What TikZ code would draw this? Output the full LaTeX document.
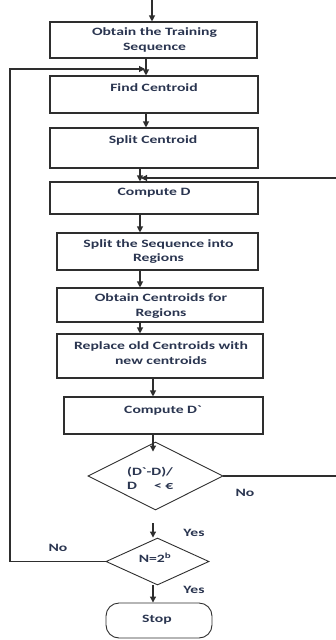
\documentclass[tikz,border=0pt]{standalone}
\usepackage{fontspec}
\setmainfont{Carlito}[FakeStretch=1.4,Ligatures=TeXOff]
\usetikzlibrary{arrows.meta,shapes.geometric}
\definecolor{ink}{HTML}{2A3550}
\definecolor{edge}{HTML}{2E2E2E}
\begin{document}
\begin{tikzpicture}[x=1pt,y=-1pt,
  stepbox/.style={draw=edge,line width=1.1pt,inner sep=0pt},
  decision/.style={diamond,draw=edge,line width=0.9pt,inner sep=0pt},
  terminal/.style={draw=edge,line width=0.9pt,rounded corners=13pt,inner sep=0pt},
  txt/.style={text=ink,font=\fontsize{11.2}{14.5}\selectfont\bfseries,align=center,inner sep=0pt},
  lbl/.style={text=ink,font=\fontsize{11.2}{14.5}\selectfont\bfseries,inner sep=0pt},
  flow/.style={draw=edge,line width=1.1pt,-{Triangle[length=6pt,width=6pt]}},
  wire/.style={draw=edge,line width=1.1pt}]
\useasboundingbox (0,0) rectangle (335,640);

% process boxes
\node[stepbox,minimum width=207pt,minimum height=36pt] (b1) at (153.5,40) {};
\node[stepbox,minimum width=208pt,minimum height=37pt] (b2) at (154,94.5) {};
\node[stepbox,minimum width=208pt,minimum height=40pt] (b3) at (154,148) {};
\node[stepbox,minimum width=208pt,minimum height=32pt] (b4) at (154,198) {};
\node[stepbox,minimum width=201pt,minimum height=37pt] (b5) at (157.5,251.5) {};
\node[stepbox,minimum width=206pt,minimum height=34pt] (b6) at (160,305) {};
\node[stepbox,minimum width=206pt,minimum height=44pt] (b7) at (160,356) {};
\node[stepbox,minimum width=199pt,minimum height=37pt] (b8) at (163.5,415.5) {};

% decisions and terminal
\node[decision,minimum width=135pt,minimum height=68pt] (d1) at (155.5,476) {};
\node[decision,minimum width=103pt,minimum height=47pt] (d2) at (157.5,561.5) {};
\node[terminal,minimum width=106pt,minimum height=35pt] (s) at (159,620.5) {};

% box texts
\node[txt] (t1) at (154.5,40) {Obtain the Training\\Sequence};
\node[txt] (t2) at (154,88) {Find Centroid};
\node[txt] (t3) at (153,140) {Split Centroid};
\node[txt] (t4) at (154,193) {Compute D};
\node[txt] (t5) at (158.5,251.5) {Split the Sequence into\\Regions};
\node[txt] (t6) at (161,306) {Obtain Centroids for\\Regions};
\node[txt] (t7) at (161,353) {Replace old Centroids with\\new centroids};
\node[txt] (t8) at (163,411) {Compute D`};
\node[txt,align=left,anchor=west] (t9) at (127,478.5) {(D`-D)/\\D\hspace{17pt}< €};
\node[txt] (t10) at (155,558) {N=2\textsuperscript{b}};
\node[txt] (t11) at (157,620) {Stop};

% branch labels
\node[lbl] (n1) at (245,493) {No};
\node[lbl] (y1) at (194,533) {Yes};
\node[lbl] (n2) at (58,548) {No};
\node[lbl] (y2) at (194,590) {Yes};

% connector columns and corner points
\coordinate (top) at (152,0);
\coordinate (xa) at (146,0);
\coordinate (xb) at (140,0);
\coordinate (xc) at (153,0);
\coordinate (lc) at (10,69);
\coordinate (rc) at (340,178);
\coordinate (ja) at (145,69);
\coordinate (jb) at (141,178);

% main flow
\draw[flow] (top) -- (b1.north -| top);
\draw[flow] (b1.south -| xa) -- (b2.north -| xa);
\draw[flow] (b2.south -| xa) -- (b3.north -| xa);
\draw[flow] (b3.south -| xb) -- (b4.north -| xb);
\draw[flow] (b4.south -| xb) -- (b5.north -| xb);
\draw[flow] (b5.south -| xb) -- (b6.north -| xb);
\draw[flow] (b6.south -| xb) -- (b7.north -| xb);
\draw[flow] (b7.south -| xc) -- (b8.north -| xc);
\draw[flow] (b8.south -| xc) -- ([yshift=-10pt]d1.north -| xc);
\draw[flow] ([yshift=-13pt]d1.south -| xc) -- (d2.north -| xc);
\draw[flow] (d2.south -| xc) -- (s.north -| xc);

% loop back when N is not reached
\draw[flow] (d2.west) -- (d2.west -| lc) -- (lc) -- (ja);
% loop back when the distortion has not settled
\draw[flow] (d1.east) -- (d1.east -| rc) -- (rc) -- (jb);
\end{tikzpicture}
\end{document}
